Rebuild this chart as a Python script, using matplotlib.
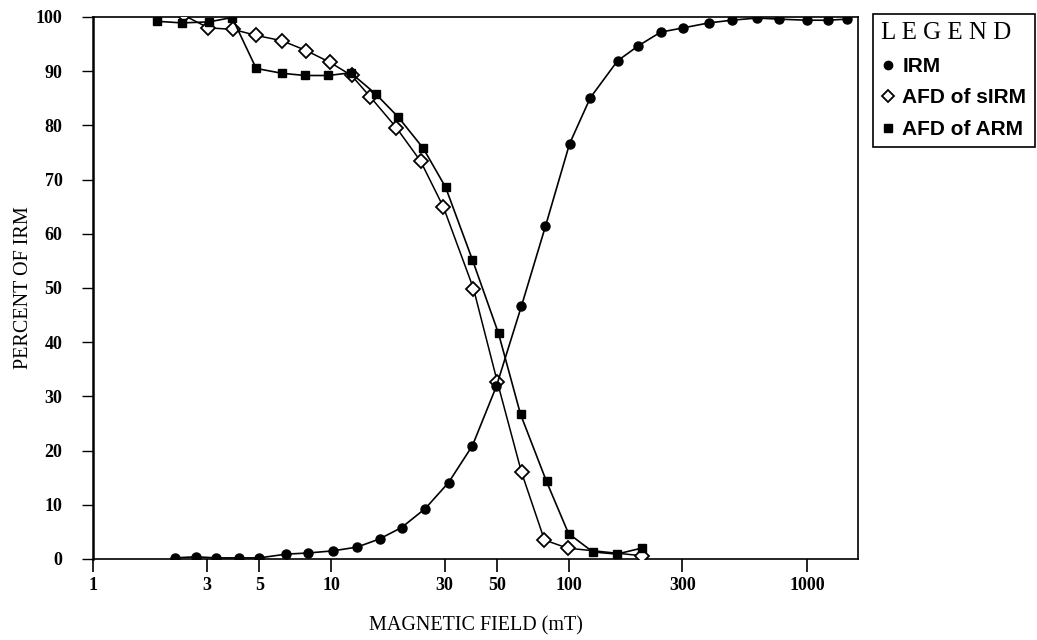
import numpy as np
import matplotlib
matplotlib.use("Agg")
import matplotlib.pyplot as plt
from matplotlib.lines import Line2D

# data (field in mT, percent of IRM)
irm_field = [2.2, 2.7, 3.3, 4.1, 5.0, 6.5, 8.0, 10.2, 12.9, 16.0, 19.8, 24.9, 31.2,
             39.3, 49.6, 63.1, 79.7, 100.6, 123, 160, 196, 243, 303, 387, 483,
             615, 762, 1000, 1225, 1470]
irm_pct = [0.2, 0.4, 0.2, 0.2, 0.2, 0.9, 1.1, 1.5, 2.2, 3.7, 5.8, 9.3, 14.1,
           20.9, 31.9, 46.6, 61.4, 76.6, 85.1, 91.9, 94.7, 97.2, 98.0, 98.9, 99.4,
           99.8, 99.6, 99.4, 99.4, 99.6]

sirm_field = [2.41, 3.05, 3.88, 4.85, 6.24, 7.87, 9.93, 12.2, 14.6, 18.8, 23.8,
              29.7, 39.7, 50.0, 63.2, 78.9, 98.7, 202]
sirm_pct = [100.3, 98.0, 97.7, 96.6, 95.6, 93.8, 91.6, 89.2, 85.3, 79.6, 73.4,
            64.9, 49.9, 32.7, 16.0, 3.5, 2.0, 0.6]

arm_field = [1.86, 2.37, 3.08, 3.84, 4.85, 6.24, 7.8, 9.74, 12.1, 15.5, 19.2,
             24.4, 30.3, 39.3, 50.6, 62.6, 80.5, 99.6, 126, 159, 202]
arm_pct = [99.2, 98.9, 99.1, 99.9, 90.5, 89.6, 89.2, 89.2, 89.7, 85.7, 81.5,
           75.8, 68.6, 55.2, 41.6, 26.7, 14.3, 4.7, 1.3, 0.9, 2.0]

xticks = [1, 3, 5, 10, 30, 50, 100, 300, 1000]
yticks = [0, 10, 20, 30, 40, 50, 60, 70, 80, 90, 100]

serif = "Liberation Serif"
sans = "Liberation Sans"

fig = plt.figure(figsize=(10.37, 6.4), dpi=100)
ax = fig.add_axes([0.0897, 0.1266, 0.7377, 0.8469])

ax.plot(irm_field, irm_pct, color="black", lw=1.2, marker="o", ms=6.5,
        mfc="black", mec="black", zorder=4)
ax.plot(sirm_field, sirm_pct, color="black", lw=1.1, marker="D", ms=6.8,
        mfc="white", mec="black", mew=1.3, zorder=3)
ax.plot(arm_field, arm_pct, color="black", lw=1.2, marker="s", ms=6,
        mfc="black", mec="black", zorder=3)

ax.set_xscale("log")
ax.set_xlim(1, 1640)
ax.set_ylim(0, 100)
ax.set_xticks(xticks)
ax.set_xticklabels([str(t) for t in xticks])
ax.xaxis.set_minor_locator(matplotlib.ticker.NullLocator())
ax.set_yticks(yticks)

for lab in ax.get_xticklabels() + ax.get_yticklabels():
    lab.set_fontfamily(serif)
    lab.set_fontweight("bold")
    lab.set_fontsize(13)

ax.tick_params(axis="y", direction="out", length=8, width=1, pad=14)
ax.tick_params(axis="x", direction="out", length=9, width=1.2, pad=4)
for s in ax.spines.values():
    s.set_linewidth(1.2)
ax.spines["left"].set_linewidth(1.8)

ax.set_xlabel("MAGNETIC FIELD (mT)", fontfamily=serif, fontsize=14.5, labelpad=16)
ax.set_ylabel("PERCENT OF IRM", fontfamily=serif, fontsize=14.5, labelpad=2)

handles = [
    Line2D([], [], ls="none", marker="o", ms=6, mfc="black", mec="black"),
    Line2D([], [], ls="none", marker="D", ms=6, mfc="white", mec="black", mew=1.3),
    Line2D([], [], ls="none", marker="s", ms=5.5, mfc="black", mec="black"),
]
labels = ["IRM", "AFD of sIRM", "AFD of ARM"]
leg = fig.legend(handles, labels, loc="upper left", bbox_to_anchor=(0.842, 0.978),
                 title="L E G E N D", alignment="left", frameon=True,
                 fancybox=False, edgecolor="black", framealpha=1,
                 handlelength=0.6, handletextpad=0.4, borderpad=0.4,
                 labelspacing=0.6, borderaxespad=0,
                 prop={"family": sans, "weight": "bold", "size": 15},
                 title_fontproperties={"family": serif, "size": 18})
leg.get_frame().set_linewidth(1.2)

fig.savefig("out.png", dpi=100)
